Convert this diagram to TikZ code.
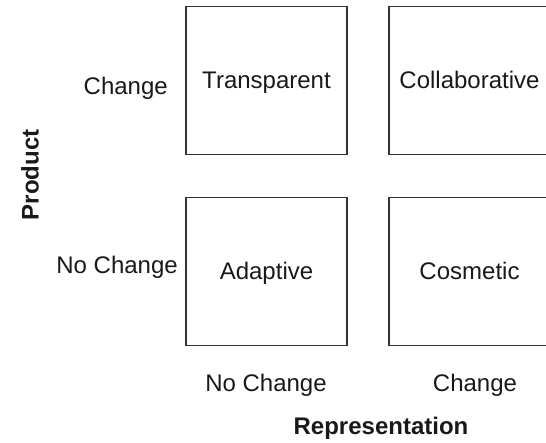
\documentclass[tikz,border=0pt]{standalone}
\usepackage{fontspec}
\setmainfont{Liberation Sans}
\begin{document}
\begin{tikzpicture}[x=1pt,y=-1pt,
  cell/.style={draw=black!80,line width=1.6pt,minimum width=161pt,minimum height=148pt,inner sep=0pt,text height=17pt,text depth=0pt,font=\fontsize{24}{28}\selectfont,text=black!90},
  lbl/.style={inner sep=0pt,font=\fontsize{24}{28}\selectfont,text=black!90},
  axis/.style={inner sep=0pt,font=\fontsize{24}{28}\selectfont\bfseries,text=black!90}]
\useasboundingbox (0,0) rectangle (546,443);
\node[cell] (tr) at (266.5,80.5) {Transparent};
\node[cell] (co) at (469.5,80.5) {Collaborative};
\node[cell] (ad) at (266.5,271.5) {Adaptive};
\node[cell] (cs) at (469.5,271.5) {Cosmetic};
\node[lbl,anchor=east] (pc) at (168,88) {Change};
\node[lbl,anchor=east] (pn) at (178,267) {No Change};
\node[axis,rotate=90] (prod) at (30,175) {Product};
\node[lbl] (rn) at (266,385) {No Change};
\node[lbl] (rc) at (475,385) {Change};
\node[axis,anchor=base] (rep) at (381,434.5) {Representation};
\end{tikzpicture}
\end{document}
